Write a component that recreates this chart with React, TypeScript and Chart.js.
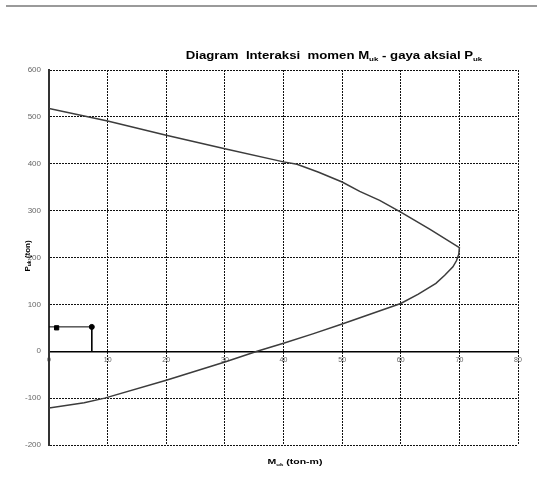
import React, { useEffect, useRef } from "react";
import { Chart, registerables } from "chart.js";

Chart.register(...registerables);

// Interaction curve (M in ton-m, P in ton)
const curveM = [0, 10, 20, 30, 40, 42.3, 46, 50, 53, 56.4, 60, 65, 70, 69.9, 69.5, 68.9, 67.5, 66, 63, 60, 55, 50, 45, 40, 35.5, 30, 20, 9.5, 6, 0];
const curveP = [518, 491, 461, 432, 404, 399, 382, 361, 341, 322, 297, 260, 221, 207, 193, 180, 162, 145, 122, 102, 80, 58, 37, 17, 0, -23, -62, -100, -110, -121];

// Load line (Mu, Pu)
const loadM = [0, 7.3, 7.3];
const loadP = [52, 52, 0];

// Single marker
const markM = [1.3];
const markP = [50];

const xMin = 0, xMax = 80, xStep = 10;
const yMin = -200, yMax = 600, yStep = 100;

const titleParts = [
  { t: "Diagram  Interaksi  momen M", sub: false },
  { t: "uk", sub: true },
  { t: " - gaya aksial P", sub: false },
  { t: "uk", sub: true },
];
const yTitleParts = [
  { t: "P", sub: false },
  { t: "uk", sub: true },
  { t: " (ton)", sub: false },
];
const xTitleParts = [
  { t: "M", sub: false },
  { t: "uk", sub: true },
  { t: " (ton-m)", sub: false },
];

const FONT = '"Liberation Sans", Arial, sans-serif';

function drawParts(
  ctx: CanvasRenderingContext2D,
  parts: { t: string; sub: boolean }[],
  size: number,
  cx: number,
  cy: number,
  stretch: number
) {
  const subSize = Math.round(size * 0.6);
  let total = 0;
  const widths = parts.map((p) => {
    ctx.font = `bold ${p.sub ? subSize : size}px ${FONT}`;
    const w = ctx.measureText(p.t).width;
    total += w;
    return w;
  });
  ctx.save();
  ctx.translate(cx, cy);
  ctx.scale(stretch, 1);
  let x = -total / 2;
  ctx.textBaseline = "alphabetic";
  ctx.textAlign = "left";
  parts.forEach((p, i) => {
    ctx.font = `bold ${p.sub ? subSize : size}px ${FONT}`;
    ctx.fillText(p.t, x, size * 0.35 + (p.sub ? size * 0.2 : 0));
    x += widths[i];
  });
  ctx.restore();
}

export default function App() {
  const ref = useRef<HTMLCanvasElement>(null);

  useEffect(() => {
    document.body.style.margin = "0";
    const textPlugin = {
      id: "texts",
      afterDraw(chart: any) {
        const ctx: CanvasRenderingContext2D = chart.ctx;
        ctx.save();
        ctx.fillStyle = "#000";
        drawParts(ctx, titleParts, 10, 334, 55, 1.32);
        drawParts(ctx, xTitleParts, 7, 295, 462, 1.5);
        ctx.translate(27, 256);
        ctx.rotate(-Math.PI / 2);
        drawParts(ctx, yTitleParts, 8, 0, 0, 1);
        ctx.restore();
      },
    };

    const chart = new Chart(ref.current as HTMLCanvasElement, {
      type: "scatter",
      data: {
        datasets: [
          {
            data: curveM.map((m, i) => ({ x: m, y: curveP[i] })),
            showLine: true,
            borderColor: "#3c3c3c",
            borderWidth: 1.5,
            pointRadius: 0,
            tension: 0,
          },
          {
            data: loadM.map((m, i) => ({ x: m, y: loadP[i] })),
            showLine: true,
            borderColor: "#000",
            borderWidth: 1,
            pointRadius: [0, 2.5, 0],
            pointBackgroundColor: "#000",
            pointBorderColor: "#000",
            tension: 0,
          },
          {
            data: markM.map((m, i) => ({ x: m, y: markP[i] })),
            showLine: false,
            pointStyle: "rect",
            pointRadius: 3,
            pointBackgroundColor: "#000",
            pointBorderColor: "#000",
          },
        ],
      },
      options: {
        animation: false,
        responsive: false,
        devicePixelRatio: 1,
        layout: { padding: { left: 0, right: 19, top: 70, bottom: 41 } },
        plugins: {
          legend: { display: false },
          tooltip: { enabled: false },
          title: { display: false },
        },
        scales: {
          x: {
            type: "linear",
            position: { y: 0 } as any,
            min: xMin,
            max: xMax,
            ticks: { stepSize: xStep, color: "#666", font: { size: 7, family: FONT }, padding: 5 },
            grid: { color: "#111", drawTicks: false, lineWidth: 1 },
            border: { display: true, color: "#000", width: 1.5, dash: [2, 1] },
          },
          y: {
            type: "linear",
            min: yMin,
            max: yMax,
            afterFit: (s: any) => {
              s.width = 49;
            },
            ticks: { stepSize: yStep, color: "#666", font: { size: 8, family: FONT }, padding: 8 },
            grid: { color: "#111", drawTicks: false, lineWidth: 1 },
            border: { display: true, color: "#333", width: 2, dash: [2, 1] },
          },
        },
      },
      plugins: [textPlugin],
    });
    return () => chart.destroy();
  }, []);

  return (
    <div style={{ position: "relative", width: 537, height: 486, background: "#fff" }}>
      <div style={{ position: "absolute", left: 6, right: 0, top: 5, height: 2, background: "#9a9a9a" }} />
      <canvas ref={ref} width={537} height={486} style={{ display: "block", width: 537, height: 486 }} />
    </div>
  );
}
